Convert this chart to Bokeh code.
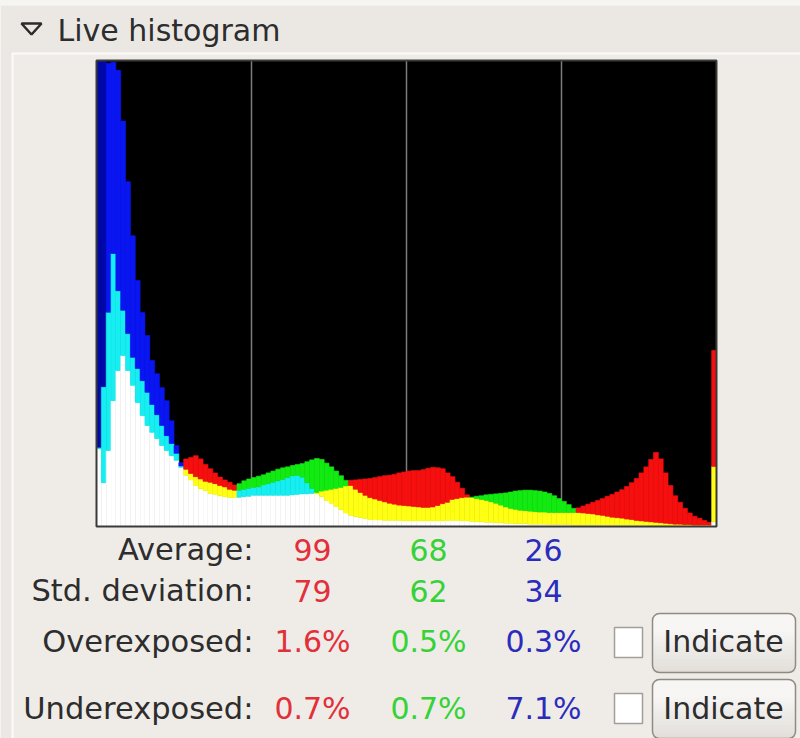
import numpy as np
from bokeh.plotting import figure
from bokeh.models import Range1d, ColumnDataSource
from bokeh.core.properties import value
from bokeh.embed import file_html
from bokeh.resources import INLINE

# ---------------- data ----------------
LEVELS = 256          # 8-bit tonal range
NBINS = 128           # bins of 2 levels each
DISPLAY_MAX = 100.0   # full height of the histogram (relative count)

red_counts = [
    16.7, 9.4, 16.3, 27.0, 33.5, 36.7, 33.5, 30.3, 26.6, 23.8,
    21.7, 20.2, 18.9, 17.4, 16.3, 15.2, 14.2, 12.7, 14.5, 14.8,
    15.2, 14.5, 13.3, 12.4, 11.5, 10.6, 10.0, 9.5, 8.9, 6.3,
    6.4, 6.5, 6.7, 6.7, 6.7, 6.7, 6.7, 6.7, 6.7, 6.7,
    6.8, 6.9, 7.0, 7.0, 7.1, 7.3, 7.6, 7.8, 8.0, 8.2,
    8.4, 8.7, 9.9, 10.0, 10.1, 10.2, 10.3, 10.5, 10.7, 10.9,
    11.0, 11.2, 11.5, 11.7, 11.9, 12.0, 12.0, 12.2, 12.5, 12.7,
    12.6, 12.4, 11.5, 10.7, 9.5, 8.2, 6.8, 6.2, 6.0, 5.8,
    5.6, 5.3, 5.0, 4.6, 4.2, 3.9, 3.7, 3.5, 3.4, 3.3,
    3.2, 3.1, 3.1, 3.0, 3.0, 3.0, 3.0, 3.0, 3.0, 4.0,
    4.4, 4.8, 5.2, 5.6, 6.0, 6.5, 6.9, 7.4, 7.9, 8.6,
    9.4, 10.3, 11.5, 12.8, 14.4, 15.9, 14.5, 11.5, 8.8, 6.6,
    5.2, 3.9, 2.9, 2.2, 1.8, 1.3, 0.9, 37.8,
]
green_counts = [
    17.0, 30.0, 46.0, 58.6, 50.6, 46.4, 41.4, 36.3, 33.9, 31.3,
    28.8, 26.2, 24.0, 21.7, 19.5, 17.8, 15.7, 13.0, 12.3, 11.4,
    10.7, 10.2, 9.7, 9.5, 9.2, 8.8, 8.5, 8.0, 7.8, 9.2,
    9.8, 10.2, 10.5, 10.8, 11.1, 11.5, 11.9, 12.3, 12.6, 12.8,
    13.1, 13.3, 13.5, 13.9, 14.3, 14.6, 14.4, 13.6, 12.8, 11.9,
    10.9, 9.9, 8.8, 8.0, 7.3, 6.7, 6.2, 5.9, 5.6, 5.3,
    5.0, 4.8, 4.6, 4.5, 4.4, 4.3, 4.2, 4.1, 4.1, 4.2,
    4.5, 4.9, 5.2, 5.8, 6.0, 6.2, 6.3, 6.3, 6.5, 6.6,
    6.8, 6.9, 7.0, 7.1, 7.2, 7.4, 7.6, 7.7, 7.8, 7.8,
    7.7, 7.6, 7.4, 7.1, 6.6, 6.0, 5.4, 4.7, 3.9, 3.0,
    2.9, 2.8, 2.7, 2.5, 2.4, 2.2, 2.0, 1.9, 1.8, 1.6,
    1.5, 1.3, 1.2, 1.1, 1.0, 0.9, 0.8, 0.7, 0.6, 0.5,
    0.5, 0.4, 0.4, 0.3, 0.3, 0.3, 0.3, 12.9,
]
blue_counts = [
    120.0, 120.0, 99.4, 99.6, 97.9, 87.0, 74.0, 62.4, 52.8, 45.9,
    41.0, 35.6, 32.8, 29.8, 27.0, 22.7, 17.4, 13.7, 11.0, 10.0,
    8.8, 8.1, 7.7, 7.1, 6.9, 6.6, 6.4, 6.2, 6.2, 7.8,
    8.0, 8.2, 8.4, 8.5, 8.9, 9.2, 9.5, 9.8, 10.1, 10.5,
    10.9, 11.0, 10.6, 9.4, 8.2, 7.0, 6.4, 5.6, 5.0, 4.3,
    3.6, 2.9, 2.4, 2.1, 1.9, 1.7, 1.5, 1.4, 1.4, 1.3,
    1.3, 1.3, 1.3, 1.2, 1.2, 1.2, 1.2, 1.2, 1.2, 1.2,
    1.2, 1.2, 1.3, 1.3, 1.3, 1.2, 1.2, 1.1, 1.0, 1.0,
    0.9, 0.9, 0.8, 0.8, 0.7, 0.7, 0.6, 0.6, 0.6, 0.5,
    0.5, 0.5, 0.5, 0.4, 0.4, 0.4, 0.4, 0.4, 0.3, 0.3,
    0.3, 0.3, 0.3, 0.3, 0.3, 0.3, 0.3, 0.3, 0.3, 0.3,
    0.3, 0.3, 0.3, 0.3, 0.2, 0.2, 0.2, 0.2, 0.2, 0.2,
    0.2, 0.2, 0.2, 0.2, 0.2, 0.2, 0.2, 1.0,
]
grid_levels = [64, 128, 192]

title_text = "Live histogram"
row_labels = ["Average:", "Std. deviation:", "Overexposed:", "Underexposed:"]
red_stats = ["99", "79", "1.6%", "0.7%"]
green_stats = ["68", "62", "0.5%", "0.7%"]
blue_stats = ["26", "34", "0.3%", "7.1%"]
button_labels = ["Indicate", "Indicate"]

assert len(red_counts) == len(green_counts) == len(blue_counts) == NBINS

# ---------------- styles ----------------
BG = "#ebe8e4"
PANEL = "#efece8"
TEXT = "#2d2d2d"
FONT = value("DejaVu Sans")
FS = "30px"
FS_LABEL = "30.5px"
COL = {"R": "#f50f0f", "G": "#12ea12", "B": "#0a16f2"}
DARK = {"R": "#a00000", "G": "#009000", "B": "#0008a8"}
MIX = {frozenset("RG"): "#ffff14", frozenset("GB"): "#16eef2", frozenset("RB"): "#f014f0"}
STAT_COL = {"R": "#e2303a", "G": "#36d236", "B": "#2c2cbc"}

W, H = 800, 738
TY = -11  # text baseline correction


def cx(X):
    return X


def cy(Y):
    return Y


def ty(Y):
    return Y + TY


p = figure(width=W, height=H, x_range=Range1d(0, W), y_range=Range1d(H, 0),
           min_border=0, toolbar_location=None, output_backend="svg",
           x_axis_location=None, y_axis_location=None, title=None,
           background_fill_color=BG, border_fill_color=BG, outline_line_color=None)
p.xgrid.visible = False
p.ygrid.visible = False

# histogram scales mapped onto the histogram box
hx0, hx1 = cx(96), cx(716)
hy0, hy1 = cy(526), cy(60)
kx = (hx1 - hx0) / LEVELS
ky = (hy0 - hy1) / DISPLAY_MAX
p.extra_x_ranges = {"lvl": Range1d(-hx0 / kx, (W - hx0) / kx)}
p.extra_y_ranges = {"cnt": Range1d(-(H - hy0) / ky, hy0 / ky)}
HR = dict(x_range_name="lvl", y_range_name="cnt")

# light strip at the very top
p.quad(left=[0], right=[W], top=[0], bottom=[cy(5)], fill_color="#f6f5f3", line_color=None)

# panel frame
p.quad(left=[cx(12)], right=[W + 20], top=[cy(53)], bottom=[H + 20],
       fill_color=PANEL, line_color="#fbfbfa", line_width=2)

# title with expander triangle
p.patch(x=[cx(21), cx(41), cx(31)], y=[cy(23), cy(23), cy(34)],
        fill_color=None, line_color="#2b2b2b", line_width=2.5)
p.text(x=[cx(57)], y=[ty(41)], text=[title_text], text_font=FONT, text_font_size=FS,
       text_color=TEXT, text_align="left", text_baseline="alphabetic")

# histogram background and grid
p.quad(left=[0], right=[LEVELS], bottom=[0], top=[DISPLAY_MAX],
       fill_color="black", line_color=None, **HR)
p.segment(x0=grid_levels, y0=[0] * len(grid_levels), x1=grid_levels,
          y1=[DISPLAY_MAX] * len(grid_levels), line_color="#7c7c7c", line_width=1.5, **HR)

# additive RGB histogram
edges = np.linspace(0, LEVELS, NBINS + 1)
segs = dict(left=[], right=[], bottom=[], top=[], color=[])
for i in range(NBINS):
    vals = {"R": red_counts[i], "G": green_counts[i], "B": blue_counts[i]}
    lo, mid, hi = sorted(vals, key=lambda c: vals[c])
    v_lo = min(vals[lo], DISPLAY_MAX)
    v_mid = min(vals[mid], DISPLAY_MAX)
    v_hi = min(vals[hi], DISPLAY_MAX)
    pieces = [
        (0.0, v_lo, "#ffffff"),
        (v_lo, v_mid, MIX[frozenset((mid, hi))]),
        (v_mid, v_hi, DARK[hi] if vals[hi] > DISPLAY_MAX else COL[hi]),
    ]
    for b, t, c in pieces:
        if t > b:
            segs["left"].append(edges[i])
            segs["right"].append(edges[i + 1])
            segs["bottom"].append(b)
            segs["top"].append(t)
            segs["color"].append(c)
src = ColumnDataSource(segs)
p.quad(left="left", right="right", bottom="bottom", top="top", source=src,
       fill_color="color", line_color="color", line_width=0.6, **HR)

# histogram frame
p.quad(left=[0], right=[LEVELS], bottom=[0], top=[DISPLAY_MAX],
       fill_color=None, line_color="#3a3a3a", line_width=2, **HR)

# statistics table
baselines = [ty(560), ty(601), ty(652), ty(719)]
p.text(x=[cx(253)] * len(row_labels), y=baselines, text=row_labels,
       text_font=FONT, text_font_size=FS_LABEL, text_color=TEXT,
       text_align="right", text_baseline="alphabetic")
for stats, key, colx in ((red_stats, "R", cx(312)), (green_stats, "G", cx(428)),
                         (blue_stats, "B", cx(543))):
    p.text(x=[colx] * len(stats), y=baselines, text=stats,
           text_font=FONT, text_font_size=FS, text_color=STAT_COL[key],
           text_align="center", text_baseline="alphabetic")

# checkboxes and buttons (soft vertical gradient in small steps)
p.quad(left=[cx(614)] * 2, right=[cx(642)] * 2, top=[cy(627), cy(693)],
       bottom=[cy(657), cy(723)], fill_color="#ffffff", line_color="#a29e98", line_width=1.5)
btn_top = [cy(613), cy(679)]
btn_bot = [cy(672), cy(738)]
bl, br = cx(652), cx(795)
p.quad(left=[bl] * 2, right=[br] * 2, top=btn_top, bottom=btn_bot,
       fill_color="#f7f6f4", line_color=None, border_radius=7)
c0 = np.array([0xf7, 0xf6, 0xf4])
c1 = np.array([0xe2, 0xdf, 0xda])
NSTEP = 12
for k in range(1, NSTEP + 1):
    f = k / NSTEP
    rgb = (c0 + (c1 - c0) * f).round().astype(int)
    col = "#%02x%02x%02x" % tuple(rgb)
    tops = [t + (b - t) * (0.25 + 0.7 * f) for t, b in zip(btn_top, btn_bot)]
    p.quad(left=[bl] * 2, right=[br] * 2, top=tops, bottom=btn_bot,
           fill_color=col, line_color=None, border_radius=(0, 0, 7, 7))
p.quad(left=[bl] * 2, right=[br] * 2, top=btn_top, bottom=btn_bot,
       fill_color=None, line_color="#8e8a84", line_width=1.5, border_radius=7)
p.text(x=[cx(723)] * 2, y=[ty(652), ty(719)], text=button_labels,
       text_font=FONT, text_font_size=FS, text_color=TEXT,
       text_align="center", text_baseline="alphabetic")

html = file_html(p, INLINE, title="Live histogram")
html = html.replace("<body>", '<body style="background-color:%s;">' % BG, 1)
open("out.html", "w").write(html)
